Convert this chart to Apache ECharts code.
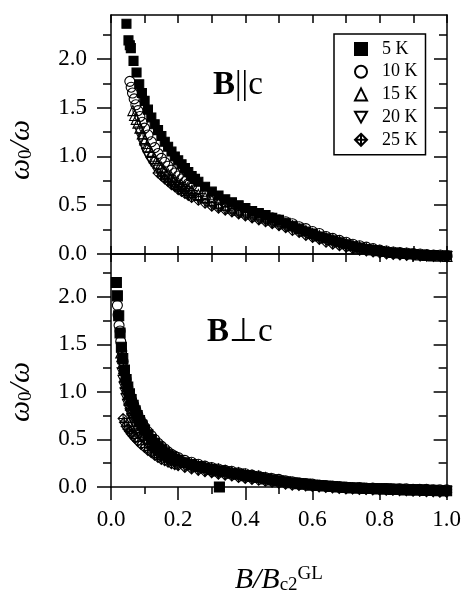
<!DOCTYPE html>
<html>
<head>
<meta charset="utf-8">
<script src="https://cdn.jsdelivr.net/npm/echarts@6/dist/echarts.min.js"></script>
<style>
  html, body { margin: 0; width: 100%; height: 100%; background: #fff; }
  #main { width: 464px; height: 596px; }
</style>
</head>
<body>
<div id="main"></div>
<script>
// B || c panel
var par5 = [[0.046,2.36],[0.052,2.19],[0.056,2.14],[0.059,2.11],[0.067,1.98],[0.076,1.86],[0.084,1.74],[0.092,1.65],[0.10,1.57],[0.11,1.48],[0.12,1.40],[0.13,1.33],[0.14,1.27],[0.15,1.21],[0.16,1.15],[0.17,1.10],[0.18,1.05],[0.19,1.00],[0.20,0.96],[0.21,0.92],[0.22,0.88],[0.23,0.84],[0.24,0.80],[0.25,0.77],[0.26,0.74],[0.28,0.69],[0.30,0.64],[0.32,0.60],[0.34,0.56],[0.36,0.53],[0.38,0.50],[0.40,0.47],[0.42,0.44],[0.44,0.42],[0.46,0.40],[0.48,0.37],[0.50,0.35],[0.52,0.32],[0.54,0.29],[0.56,0.26],[0.58,0.23],[0.60,0.21],[0.62,0.18],[0.64,0.16],[0.66,0.14],[0.68,0.12],[0.70,0.10],[0.72,0.08],[0.74,0.065],[0.76,0.05],[0.78,0.04],[0.80,0.03],[0.82,0.02],[0.84,0.015],[0.86,0.01],[0.88,0.005],[0.90,0.0],[0.92,-0.005],[0.94,-0.01],[0.96,-0.01],[0.98,-0.015],[1.00,-0.015]];
var par10 = [[0.056,1.77],[0.060,1.71],[0.064,1.65],[0.069,1.59],[0.074,1.53],[0.080,1.47],[0.086,1.41],[0.093,1.35],[0.10,1.29],[0.11,1.22],[0.12,1.15],[0.13,1.09],[0.14,1.03],[0.15,0.98],[0.16,0.94],[0.17,0.90],[0.18,0.86],[0.19,0.83],[0.20,0.80],[0.21,0.77],[0.22,0.74],[0.23,0.72],[0.24,0.70],[0.26,0.66],[0.28,0.62],[0.30,0.59],[0.32,0.56],[0.34,0.53],[0.36,0.50],[0.38,0.48],[0.40,0.45],[0.42,0.43],[0.44,0.41],[0.46,0.39],[0.48,0.37],[0.50,0.35],[0.52,0.33],[0.54,0.31],[0.56,0.28],[0.58,0.26],[0.60,0.23],[0.62,0.21],[0.64,0.18],[0.66,0.16],[0.68,0.14],[0.70,0.12],[0.72,0.10],[0.74,0.085],[0.76,0.07],[0.78,0.055],[0.80,0.04],[0.82,0.03],[0.84,0.02],[0.86,0.015],[0.88,0.01],[0.90,0.005],[0.92,0.0],[0.94,-0.005],[0.96,-0.01],[0.98,-0.01],[1.00,-0.015]];
var par15 = [[0.065,1.47],[0.070,1.42],[0.075,1.38],[0.080,1.34],[0.086,1.29],[0.093,1.23],[0.10,1.17],[0.11,1.10],[0.12,1.04],[0.13,0.98],[0.14,0.93],[0.15,0.89],[0.16,0.85],[0.17,0.82],[0.18,0.79],[0.19,0.76],[0.20,0.73],[0.21,0.71],[0.22,0.69],[0.23,0.67],[0.24,0.65],[0.26,0.61],[0.28,0.58],[0.30,0.55],[0.32,0.52],[0.34,0.50],[0.36,0.47],[0.38,0.45],[0.40,0.43],[0.42,0.41],[0.44,0.39],[0.46,0.37],[0.48,0.35],[0.50,0.33],[0.52,0.31],[0.54,0.29],[0.56,0.26],[0.58,0.24],[0.60,0.21],[0.62,0.19],[0.64,0.17],[0.66,0.15],[0.68,0.13],[0.70,0.11],[0.72,0.09],[0.74,0.075],[0.76,0.06],[0.78,0.045],[0.80,0.035],[0.82,0.025],[0.84,0.015],[0.86,0.01],[0.88,0.005],[0.90,0.0],[0.92,-0.01],[0.94,-0.015],[0.96,-0.02],[0.98,-0.02],[1.00,-0.025]];
var par20 = [[0.085,1.25],[0.090,1.19],[0.095,1.13],[0.10,1.08],[0.106,1.03],[0.113,0.99],[0.12,0.95],[0.13,0.90],[0.14,0.86],[0.15,0.82],[0.16,0.79],[0.17,0.76],[0.18,0.73],[0.19,0.70],[0.20,0.68],[0.21,0.66],[0.22,0.64],[0.23,0.62],[0.24,0.60],[0.26,0.57],[0.28,0.54],[0.30,0.51],[0.32,0.48],[0.34,0.46],[0.36,0.44],[0.38,0.42],[0.40,0.40],[0.42,0.38],[0.44,0.36],[0.46,0.34],[0.48,0.32],[0.50,0.30],[0.52,0.28],[0.54,0.26],[0.56,0.23],[0.58,0.21],[0.60,0.18],[0.62,0.16],[0.64,0.14],[0.66,0.12],[0.68,0.10],[0.70,0.085],[0.72,0.07],[0.74,0.055],[0.76,0.04],[0.78,0.03],[0.80,0.02],[0.82,0.01],[0.84,0.005],[0.86,0.0],[0.88,-0.005],[0.90,-0.01],[0.92,-0.015],[0.94,-0.02],[0.96,-0.02],[0.98,-0.025],[1.00,-0.025]];
var par25 = [[0.14,0.83],[0.15,0.80],[0.16,0.77],[0.17,0.74],[0.18,0.71],[0.19,0.69],[0.20,0.66],[0.21,0.64],[0.22,0.62],[0.23,0.60],[0.24,0.58],[0.26,0.55],[0.28,0.52],[0.30,0.49],[0.32,0.47],[0.34,0.45],[0.36,0.43],[0.38,0.41],[0.40,0.39],[0.42,0.37],[0.44,0.35],[0.46,0.33],[0.48,0.31],[0.50,0.29],[0.52,0.27],[0.54,0.24],[0.56,0.22],[0.58,0.19],[0.60,0.17],[0.62,0.15],[0.64,0.12],[0.66,0.10],[0.68,0.085],[0.70,0.07],[0.72,0.055],[0.74,0.04],[0.76,0.03],[0.78,0.02],[0.80,0.01],[0.82,0.0],[0.84,-0.005],[0.86,-0.01],[0.88,-0.015],[0.90,-0.015],[0.92,-0.02],[0.94,-0.02],[0.96,-0.025],[0.98,-0.025],[1.00,-0.03]];

// B perp c panel
var perp5 = [[0.016,2.15],[0.019,2.01],[0.023,1.80],[0.027,1.62],[0.031,1.47],[0.035,1.35],[0.040,1.23],[0.045,1.13],[0.050,1.05],[0.055,0.98],[0.060,0.92],[0.066,0.86],[0.072,0.80],[0.078,0.75],[0.085,0.70],[0.092,0.65],[0.10,0.60],[0.11,0.55],[0.12,0.50],[0.13,0.46],[0.14,0.42],[0.15,0.39],[0.16,0.36],[0.17,0.335],[0.18,0.315],[0.19,0.295],[0.20,0.28],[0.22,0.255],[0.24,0.235],[0.26,0.215],[0.28,0.20],[0.30,0.185],[0.323,0.0],[0.32,0.17],[0.34,0.16],[0.36,0.145],[0.38,0.135],[0.40,0.12],[0.42,0.11],[0.44,0.10],[0.46,0.085],[0.48,0.075],[0.50,0.065],[0.52,0.055],[0.54,0.045],[0.56,0.035],[0.58,0.03],[0.60,0.02],[0.62,0.015],[0.64,0.01],[0.66,0.005],[0.68,0.0],[0.70,-0.005],[0.72,-0.01],[0.74,-0.01],[0.76,-0.015],[0.78,-0.015],[0.80,-0.02],[0.82,-0.02],[0.84,-0.025],[0.86,-0.025],[0.88,-0.03],[0.90,-0.03],[0.92,-0.03],[0.94,-0.035],[0.96,-0.035],[0.98,-0.04],[1.00,-0.04]];
var perp10 = [[0.019,1.91],[0.021,1.81],[0.024,1.70],[0.027,1.64],[0.029,1.53],[0.032,1.43],[0.036,1.32],[0.040,1.23],[0.045,1.13],[0.050,1.05],[0.056,0.97],[0.062,0.91],[0.068,0.86],[0.074,0.81],[0.080,0.76],[0.087,0.71],[0.094,0.67],[0.10,0.63],[0.11,0.58],[0.12,0.54],[0.13,0.50],[0.14,0.46],[0.15,0.43],[0.16,0.40],[0.17,0.37],[0.18,0.345],[0.19,0.325],[0.20,0.31],[0.22,0.28],[0.24,0.26],[0.26,0.24],[0.28,0.22],[0.30,0.205],[0.32,0.19],[0.34,0.175],[0.36,0.165],[0.38,0.15],[0.40,0.14],[0.42,0.125],[0.44,0.115],[0.46,0.10],[0.48,0.09],[0.50,0.08],[0.52,0.065],[0.54,0.055],[0.56,0.045],[0.58,0.035],[0.60,0.03],[0.62,0.02],[0.64,0.015],[0.66,0.01],[0.68,0.005],[0.70,0.0],[0.72,-0.005],[0.74,-0.005],[0.76,-0.01],[0.78,-0.01],[0.80,-0.015],[0.82,-0.015],[0.84,-0.02],[0.86,-0.02],[0.88,-0.02],[0.90,-0.025],[0.92,-0.025],[0.94,-0.025],[0.96,-0.03],[0.98,-0.03],[1.00,-0.03]];
var perp15 = [[0.029,1.41],[0.032,1.37],[0.035,1.30],[0.037,1.24],[0.040,1.16],[0.043,1.09],[0.046,1.03],[0.050,0.97],[0.054,0.91],[0.058,0.86],[0.062,0.81],[0.066,0.77],[0.071,0.73],[0.076,0.69],[0.082,0.65],[0.088,0.61],[0.095,0.57],[0.10,0.545],[0.11,0.50],[0.12,0.46],[0.13,0.43],[0.14,0.40],[0.15,0.37],[0.16,0.35],[0.17,0.33],[0.18,0.31],[0.19,0.295],[0.20,0.28],[0.22,0.26],[0.24,0.245],[0.26,0.23],[0.28,0.215],[0.30,0.20],[0.32,0.19],[0.34,0.175],[0.36,0.16],[0.38,0.15],[0.40,0.135],[0.42,0.125],[0.44,0.115],[0.46,0.10],[0.477,0.09]];
var perp20 = [[0.033,1.20],[0.036,1.12],[0.039,1.05],[0.042,0.99],[0.045,0.93],[0.049,0.87],[0.053,0.82],[0.057,0.77],[0.062,0.72],[0.067,0.68],[0.072,0.64],[0.078,0.60],[0.085,0.56],[0.092,0.52],[0.10,0.485],[0.11,0.44],[0.12,0.405],[0.13,0.375],[0.14,0.35],[0.15,0.325],[0.16,0.305],[0.17,0.285],[0.18,0.27],[0.19,0.255],[0.20,0.24],[0.22,0.22],[0.24,0.20],[0.26,0.185],[0.28,0.17],[0.30,0.155],[0.32,0.145],[0.34,0.135],[0.36,0.125],[0.38,0.115],[0.40,0.105],[0.42,0.095],[0.44,0.085],[0.46,0.075],[0.48,0.065],[0.50,0.055],[0.52,0.045],[0.54,0.035],[0.56,0.03],[0.58,0.02],[0.60,0.015],[0.62,0.01],[0.64,0.005],[0.66,0.0],[0.68,-0.005],[0.70,-0.01],[0.72,-0.015],[0.74,-0.015],[0.76,-0.02],[0.78,-0.02],[0.80,-0.025],[0.82,-0.025],[0.84,-0.03],[0.86,-0.03],[0.88,-0.035],[0.90,-0.035],[0.92,-0.04],[0.94,-0.04],[0.96,-0.045],[0.98,-0.045],[1.00,-0.05]];
var perp25 = [[0.036,0.72],[0.040,0.68],[0.045,0.64],[0.050,0.61],[0.055,0.585],[0.060,0.56],[0.066,0.535],[0.072,0.51],[0.080,0.48],[0.090,0.445],[0.10,0.415],[0.11,0.385],[0.12,0.36],[0.13,0.335],[0.14,0.31],[0.15,0.29],[0.16,0.275],[0.17,0.26],[0.18,0.245],[0.19,0.235],[0.20,0.225],[0.22,0.205],[0.24,0.19],[0.26,0.175],[0.28,0.16],[0.30,0.15],[0.32,0.135],[0.34,0.125],[0.36,0.115],[0.38,0.10],[0.40,0.09],[0.42,0.08],[0.44,0.07],[0.46,0.06],[0.48,0.05],[0.50,0.04],[0.52,0.03],[0.54,0.02],[0.56,0.015],[0.58,0.01],[0.60,0.005],[0.62,0.0],[0.64,-0.005],[0.66,-0.01],[0.68,-0.015],[0.70,-0.02],[0.72,-0.02],[0.74,-0.025],[0.76,-0.025],[0.78,-0.03],[0.80,-0.03],[0.82,-0.035],[0.84,-0.035],[0.86,-0.04],[0.88,-0.04],[0.90,-0.045],[0.92,-0.045],[0.94,-0.05],[0.96,-0.05],[0.98,-0.055],[1.00,-0.055]];

var names = ['5 K', '10 K', '15 K', '20 K', '25 K'];
var yMajor = [0, 0.5, 1.0, 1.5, 2.0];
var yMinor = [0.25, 0.75, 1.25, 1.75, 2.25];
var xMinor = [0.1, 0.3, 0.5, 0.7, 0.9];

var serif = "'Liberation Serif', 'Times New Roman', serif";
var line = { show: true, onZero: false, lineStyle: { color: '#000', width: 1.5 } };
var noLine = { show: false, onZero: false };

var symbols = [
    { symbol: 'rect', size: 9, fill: '#000' },
    { symbol: 'circle', size: 10, fill: 'rgba(0,0,0,0)' },
    { symbol: 'triangle', size: 10, fill: 'rgba(0,0,0,0)' },
    { symbol: 'path://M0,0 L10,0 L5,9 Z', size: 10, fill: 'rgba(0,0,0,0)' },
    { symbol: 'path://M5,0 L10,5 L5,10 L0,5 Z M5,0 L5,10 M0,5 L10,5', size: 10, fill: 'rgba(0,0,0,0)' }
];

function xAx(grid, pos, opt) {
    return Object.assign({
        type: 'value', gridIndex: grid, position: pos, min: 0, max: 1, interval: 0.1,
        axisLine: line, splitLine: { show: false }, axisLabel: { show: false },
        axisTick: { inside: true, length: 8, lineStyle: { color: '#000', width: 1.5 } }
    }, opt);
}
function yAx(grid, pos, ticks, inside, len, labels, showLine) {
    return {
        type: 'value', gridIndex: grid, position: pos, min: 0, max: 2.45,
        axisLine: showLine ? line : noLine, splitLine: { show: false },
        axisTick: { customValues: ticks, inside: inside, length: len, lineStyle: { color: '#000', width: 1.5 } },
        axisLabel: labels ? {
            customValues: yMajor, margin: 24, color: '#000', fontFamily: serif, fontSize: 23,
            formatter: function (v) { return v.toFixed(1); }
        } : { show: false }
    };
}

var series = [];
[[par5, par10, par15, par20, par25], [perp5, perp10, perp15, perp20, perp25]].forEach(function (panel, p) {
    panel.forEach(function (data, i) {
        // in the lower panel the 5 K squares sit on top of the hollow marks
        var onTop = p === 1 && i === 0;
        series.push({
            type: 'scatter', name: names[i], data: data,
            xAxisIndex: p === 0 ? 0 : 2, yAxisIndex: p === 0 ? 0 : 4,
            symbol: symbols[i].symbol, symbolSize: onTop ? 10 : symbols[i].size, clip: false,
            z: onTop ? 3 : 2,
            itemStyle: { color: symbols[i].fill, borderColor: '#000', borderWidth: 1.1, opacity: 1 },
            emphasis: { disabled: true }
        });
    });
});

var yName = {
    text: '{a|ω}{b|0}{a|/ω}', align: 'center', verticalAlign: 'middle',
    rich: {
        a: { fontFamily: serif, fontStyle: 'italic', fontSize: 30, lineHeight: 30, fill: '#000' },
        b: { fontFamily: serif, fontSize: 19, lineHeight: 12, verticalAlign: 'bottom', fill: '#000' }
    }
};

var chart = echarts.init(document.getElementById('main'));
chart.setOption({
    animation: false,
    backgroundColor: '#fff',
    grid: [
        { left: 111, top: 15, width: 336, height: 239 },
        { left: 111, top: 254, width: 336, height: 239 }
    ],
    xAxis: [
        xAx(0, 'bottom', {}),
        xAx(0, 'top', {}),
        xAx(1, 'bottom', {
            interval: 0.2,
            axisTick: { inside: false, length: 13, lineStyle: { color: '#000', width: 1.5 } },
            axisLabel: { show: true, margin: 21, color: '#000', fontFamily: serif, fontSize: 23,
                formatter: function (v) { return v.toFixed(1); } },
            name: '{i|B/B}{s|c2}{u|GL}', nameLocation: 'middle', nameGap: 78,
            nameTextStyle: {
                rich: {
                    i: { fontFamily: serif, fontStyle: 'italic', fontSize: 30, lineHeight: 30, color: '#000' },
                    s: { fontFamily: serif, fontSize: 19, lineHeight: 12, verticalAlign: 'bottom', color: '#000' },
                    u: { fontFamily: serif, fontSize: 19, lineHeight: 12, verticalAlign: 'top', color: '#000' }
                }
            }
        }),
        xAx(1, 'bottom', {
            axisLine: noLine, interval: null,
            axisTick: { customValues: xMinor, inside: false, length: 7, lineStyle: { color: '#000', width: 1.5 } }
        }),
        xAx(1, 'top', {})
    ],
    yAxis: [
        yAx(0, 'left', yMajor, false, 14, true, true),
        yAx(0, 'left', yMinor, false, 8, false, false),
        yAx(0, 'right', yMajor, true, 13, false, true),
        yAx(0, 'right', yMinor, true, 8, false, false),
        yAx(1, 'left', yMajor, false, 14, true, true),
        yAx(1, 'left', yMinor, false, 8, false, false),
        yAx(1, 'right', yMajor, true, 13, false, true),
        yAx(1, 'right', yMinor, true, 8, false, false)
    ],
    legend: {
        left: 334, top: 34, orient: 'vertical', selectedMode: false,
        padding: [6, 8, 6, 20], itemGap: 4.7, itemWidth: 12, itemHeight: 12,
        borderColor: '#000', borderWidth: 1.5, borderRadius: 0,
        textStyle: { fontFamily: serif, fontSize: 18, color: '#000', padding: [0, 0, 0, 10] },
        data: names
    },
    graphic: [
        { type: 'text', x: 21, y: 150, rotation: Math.PI / 2, style: yName },
        { type: 'text', x: 21, y: 392, rotation: Math.PI / 2, style: yName },
        {
            type: 'text', x: 213, y: 85,
            style: {
                text: '{b|B}{n|||c}', align: 'left', verticalAlign: 'middle',
                rich: {
                    b: { fontFamily: serif, fontWeight: 'bold', fontSize: 33, fill: '#000' },
                    n: { fontFamily: serif, fontSize: 33, fill: '#000' }
                }
            }
        },
        {
            type: 'text', x: 207, y: 332,
            style: {
                text: '{b|B}{n|⊥c}', align: 'left', verticalAlign: 'middle',
                rich: {
                    b: { fontFamily: serif, fontWeight: 'bold', fontSize: 33, fill: '#000' },
                    n: { fontFamily: serif, fontSize: 33, fill: '#000' }
                }
            }
        }
    ],
    series: series
});
window.onresize = chart.resize;
</script>
</body>
</html>
